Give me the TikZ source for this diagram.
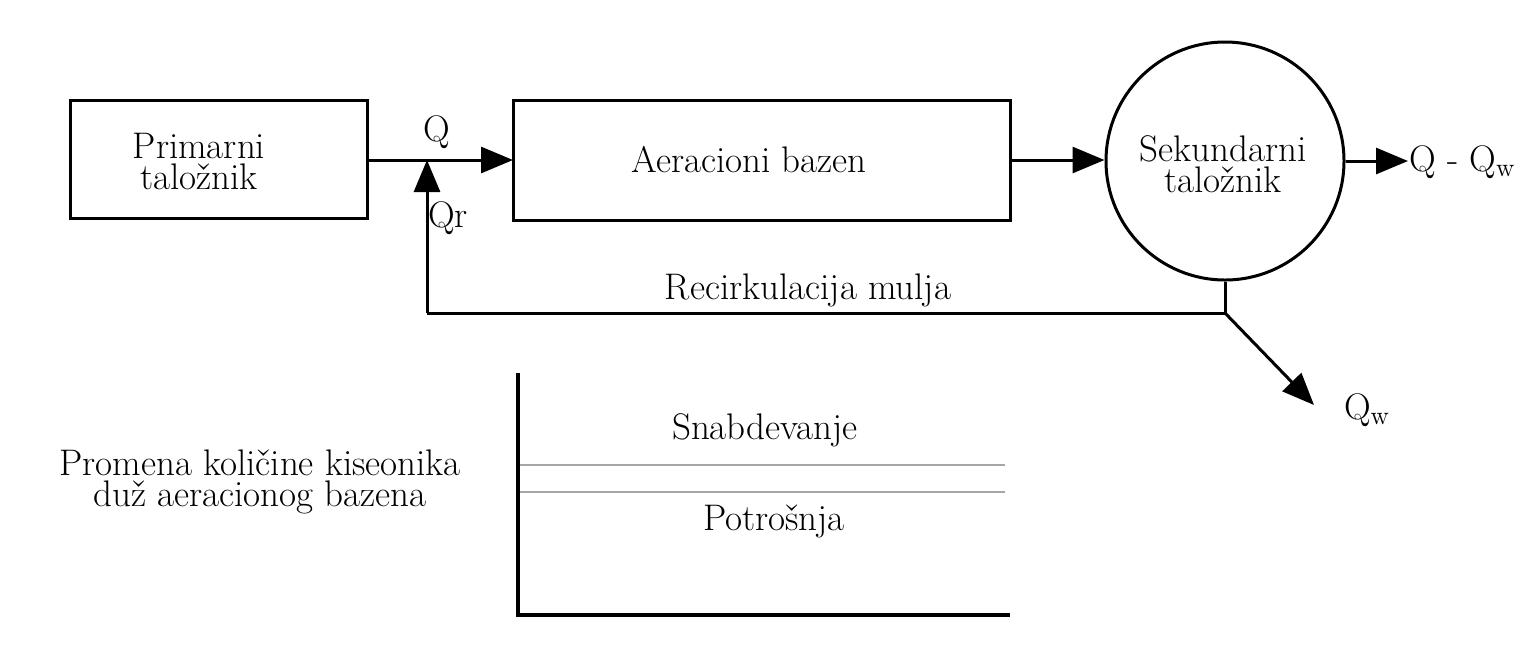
\documentclass[tikz,border=0pt]{standalone}
\usepackage{fontspec}
\setmainfont{Latin Modern Roman}
\usetikzlibrary{arrows.meta}
\begin{document}
\begin{tikzpicture}[x=0.5pt,y=-0.5pt,
  lbl/.style={font=\fontsize{18.5}{15.5}\selectfont, inner sep=0pt, align=center},
  blk/.style={draw, line width=1.5pt},
  flow/.style={line width=1.5pt, -{Triangle[length=16pt,width=13pt]}},
  pipe/.style={line width=1.5pt},
  level/.style={draw=gray!70, line width=0.8pt}]
\useasboundingbox (0,0) rectangle (1526,650);
% blocks
\draw[blk] (70,100) rectangle (367,218);
\node[lbl] (prim) at (199,162) {Primarni\\taložnik};
\coordinate (primR) at (367,160);
\draw[blk] (513,100) rectangle (1010,220);
\node[lbl] (aer) at (749,160) {Aeracioni bazen};
\coordinate (aerL) at (513,160);
\coordinate (aerR) at (1010,160);
\node[draw, circle, line width=1.5pt, minimum size=119pt, inner sep=0pt] (sek) at (1225,161) {};
\node[lbl] (sekt) at (1223,164) {Sekundarni\\taložnik};
% flows
\draw[flow] (primR) -- (aerL);
\draw[flow] (aerR) -- (aerR -| sek.west);
\coordinate (outE) at (1408,161);
\draw[flow] (sek.east) -- (outE);
\node[lbl, anchor=west] (qqw) at (1409,162) {Q - Q\textsubscript{w}};
\node[lbl] (q) at (437,132) {Q};
\node[lbl] (qr) at (448,218) {Qr};
% recirculation
\coordinate (junc) at (1225,313);
\coordinate (corner) at (427,313);
\coordinate (inlet) at (427,160);
\draw[pipe] (sek.south) -- (junc) -- (corner);
\draw[flow] (corner) -- (inlet);
\node[lbl] (rec) at (808,290) {Recirkulacija mulja};
\coordinate (waste) at (1314,405);
\draw[flow] (junc) -- (waste);
\node[lbl] (qw) at (1367,410) {Q\textsubscript{w}};
% oxygen graph
\coordinate (ax0) at (518,615);
\coordinate (axT) at (518,373);
\coordinate (axR) at (1010,615);
\draw[line width=1.8pt] (axT) -- (ax0) -- (axR);
\coordinate (s1) at (520,465);
\coordinate (s2) at (1005,465);
\coordinate (p1) at (520,492);
\coordinate (p2) at (1005,492);
\draw[level] (s1) -- (s2);
\draw[level] (p1) -- (p2);
\node[lbl] (snab) at (765,430) {Snabdevanje};
\node[lbl] (potr) at (774,521) {Potrošnja};
\node[lbl] (prom) at (260,482) {Promena količine kiseonika\\duž aeracionog bazena};
\end{tikzpicture}
\end{document}
